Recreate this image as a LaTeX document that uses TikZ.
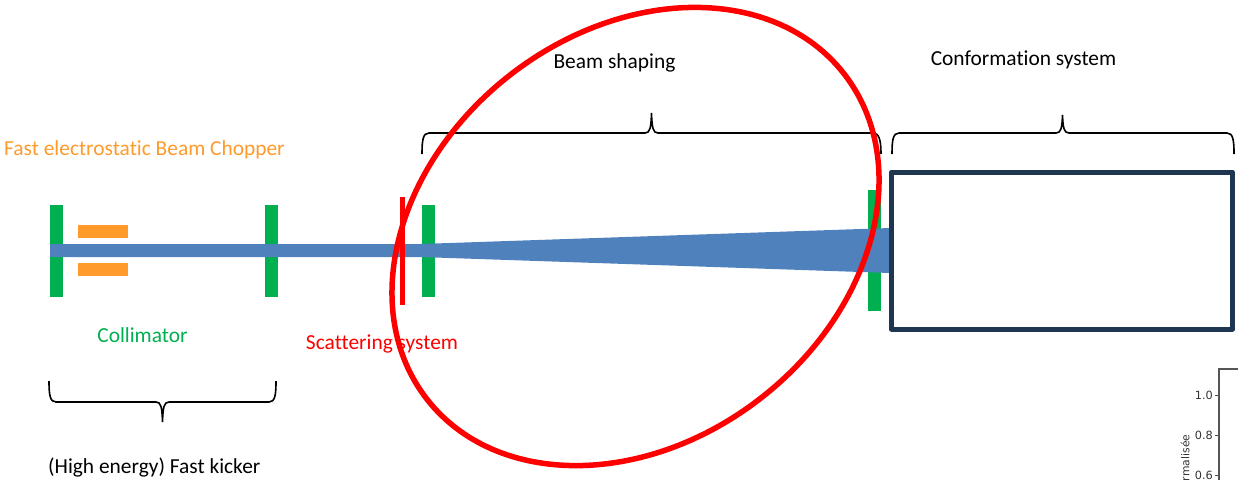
\documentclass[tikz,border=0pt]{standalone}
\usepackage{fontspec}
\setmainfont[Ligatures=NoCommon]{Carlito}
\newfontfamily\chartfont{DejaVu Sans}
\definecolor{beamblue}{HTML}{4F81BD}
\definecolor{slitgreen}{HTML}{00B050}
\definecolor{chopper}{HTML}{FF9A2B}
\definecolor{boxnavy}{HTML}{1F3651}
\definecolor{axisgray}{HTML}{555555}
\tikzset{
  slit/.style={fill=slitgreen,draw=none},
  plate/.style={fill=chopper,draw=none},
  brace/.style={draw=black,line width=1.6pt,line cap=butt},
  lbl/.style={font=\fontsize{21.4pt}{25pt}\selectfont,inner sep=0pt},
  tick/.style={draw=axisgray,line width=1pt},
  ticklbl/.style={font=\chartfont\fontsize{11.3pt}{12pt}\selectfont,text=black!80,inner sep=0pt,anchor=east},
}
\begin{document}
\begin{tikzpicture}[x=1pt,y=-1pt]
\useasboundingbox (0,0) rectangle (1238,480);
% slits and plates
\fill[slit] (50,205) rectangle (63,297);
\fill[slit] (265,205) rectangle (278,297);
\fill[slit] (422,205) rectangle (435,297);
\fill[slit] (868,190) rectangle (881,311);
\fill[plate] (78,225) rectangle (128,238);
\fill[plate] (78,263) rectangle (128,276);
% beam
\fill[beamblue] (50,244) -- (420,244) -- (890,228) -- (890,273) -- (420,257) -- (50,257) -- cycle;
% scatterer
\fill[red] (400,197) rectangle (405,305);
% conformation box
\draw[boxnavy,line width=5pt,line join=round] (891.5,172) rectangle (1232.5,329);
% braces
\draw[brace] (422,154) .. controls (422,140) and (423,133) .. (429,133) -- (645,133)
  .. controls (650,133) and (651,128) .. (651.5,113) .. controls (652,128) and (653,133) .. (658,133)
  -- (873,133) .. controls (879,133) and (881,140) .. (881,154);
\draw[brace] (892,154) .. controls (892,140) and (893,133) .. (899,133) -- (1056,133)
  .. controls (1061,133) and (1062,128) .. (1062.5,115) .. controls (1063,128) and (1064,133) .. (1069,133)
  -- (1227,133) .. controls (1233,133) and (1234,140) .. (1234,154);
\draw[brace] (49,381) .. controls (49,395) and (50,402) .. (56,402) -- (156,402)
  .. controls (161,402) and (162,407) .. (162.5,422) .. controls (163,407) and (164,402) .. (169,402)
  -- (269,402) .. controls (275,402) and (276,395) .. (276,381);
% labels
\node[lbl,text=chopper,anchor=west] (chop) at (4,150) {Fast electrostatic Beam Chopper};
\node[lbl,text=slitgreen] (coll) at (142.5,335.5) {Collimator};
\node[lbl,text=red] (scat) at (382,344) {Scattering system};
\node[lbl,anchor=west] (kick) at (48,468) {(High energy) Fast kicker};
\node[lbl] (shape) at (614.5,63) {Beam shaping};
\node[lbl] (conf) at (1023.5,60) {Conformation system};
% red ellipse
\draw[red,line width=5.5pt] (635.5,236.5) ellipse[x radius=264.5,y radius=204.5,rotate=38];
% chart fragment
\draw[axisgray,line width=1.1pt] (1238,369) -- (1219,369) -- (1219,480);
\draw[tick] (1215,395) -- (1219,395);
\draw[tick] (1215,435) -- (1219,435);
\draw[tick] (1215,475) -- (1219,475);
\node[ticklbl] (t1) at (1213,395) {1.0};
\node[ticklbl] (t2) at (1213,435) {0.8};
\node[ticklbl] (t3) at (1213,475) {0.6};
\node[font=\chartfont\fontsize{10.8pt}{12pt}\selectfont,text=black!80,inner sep=0pt,rotate=90,anchor=east] (ylab) at (1185,434.5) {rmalisée};
\end{tikzpicture}
\end{document}
